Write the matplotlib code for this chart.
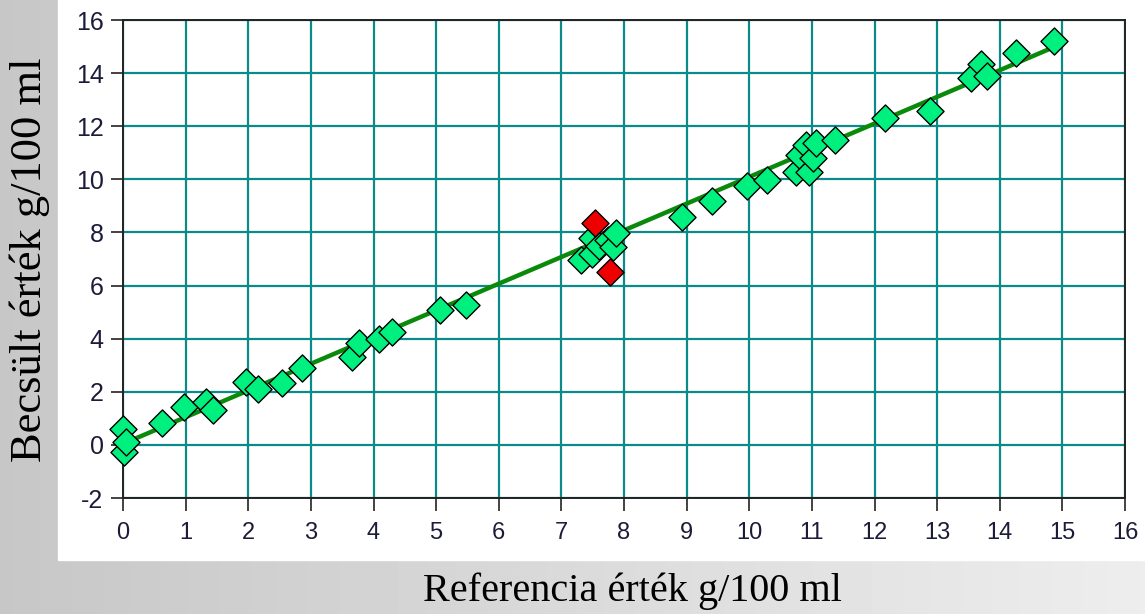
import numpy as np
import matplotlib.pyplot as plt
from matplotlib.patches import Rectangle

# reference vs. estimated values (g/100 ml)
ref_values = [0.0, 0.02, 0.05, 0.62, 0.98, 1.32, 1.44, 1.96, 2.15, 2.54, 2.86,
              3.65, 3.77, 4.09, 4.30, 5.06, 5.47, 7.31, 7.49, 7.49, 7.60, 7.75,
              7.83, 7.88, 8.92, 9.40, 9.96, 10.28, 10.75, 10.79, 10.95, 10.90,
              11.02, 11.07, 11.37, 12.17, 12.89, 13.54, 13.70, 13.79, 14.26, 14.87]
est_values = [0.60, -0.28, 0.10, 0.83, 1.43, 1.62, 1.30, 2.37, 2.10, 2.33, 2.89,
              3.32, 3.83, 4.00, 4.25, 5.08, 5.26, 6.95, 7.20, 7.80, 7.50, 7.70,
              7.45, 7.97, 8.57, 9.20, 9.74, 9.96, 10.26, 10.90, 10.26, 11.28,
              10.80, 11.35, 11.47, 12.30, 12.56, 13.80, 14.36, 13.90, 14.74, 15.20]

# outliers flagged in red
outlier_ref = [7.54, 7.78]
outlier_est = [8.35, 6.50]

# regression line
fit_slope = 1.005
fit_intercept = 0.04
fit_range = [0.0, 14.87]

plt.rcParams['axes.unicode_minus'] = False

fig = plt.figure(figsize=(11.45, 6.14), dpi=100)

# grey gradient backdrop with a white panel behind the chart
bg = fig.add_axes([0, 0, 1, 1], zorder=-2)
grad = np.linspace(0.78, 0.93, 256)
bg.imshow(np.tile(grad, (64, 1)), cmap='gray', vmin=0, vmax=1,
          aspect='auto', extent=[0, 1, 0, 1])
bg.add_patch(Rectangle((58 / 1145, 1 - 560 / 614), 1, 1, color='white'))
bg.set_xlim(0, 1)
bg.set_ylim(0, 1)
bg.axis('off')

ax = fig.add_axes([123 / 1145, 1 - 498 / 614, 1002 / 1145, 478 / 614])
ax.set_facecolor('white')

ax.set_xlim(0, 16)
ax.set_ylim(-2, 16)
ax.set_xticks(np.arange(0, 17, 1))
ax.set_yticks(np.arange(-2, 17, 2))
ax.grid(True, color='#0b8a8a', linewidth=1.6)
ax.set_axisbelow(True)

for side in ax.spines.values():
    side.set_color('#222222')
    side.set_linewidth(1.4)

ax.tick_params(direction='out', length=9, width=1.2, color='#222222',
               labelcolor='#1c1c3a', pad=5)
ax.tick_params(axis='y', labelsize=18)
ax.tick_params(axis='x', labelsize=17, pad=8)
for lbl in ax.get_xticklabels() + ax.get_yticklabels():
    lbl.set_family('Liberation Sans')

xs = np.array(fit_range)
ax.plot(xs, fit_intercept + fit_slope * xs, color='#0a8a0a', linewidth=3.2, zorder=3)

ax.scatter(ref_values, est_values, marker='D', s=190, facecolor='#00f080',
           edgecolor='black', linewidth=1.0, zorder=4, clip_on=False)
ax.scatter(outlier_ref, outlier_est, marker='D', s=190, facecolor='#ee0000',
           edgecolor='black', linewidth=1.0, zorder=5)

fig.text(632 / 1145, 1 - 591 / 614, 'Referencia érték g/100 ml', ha='center',
         va='center', family='Liberation Serif', fontsize=29)
fig.text(30 / 1145, 1 - 260 / 614, 'Becsült érték g/100 ml', ha='center',
         va='center', rotation=90, family='Liberation Serif', fontsize=32)

fig.savefig('out.png', dpi=100)
